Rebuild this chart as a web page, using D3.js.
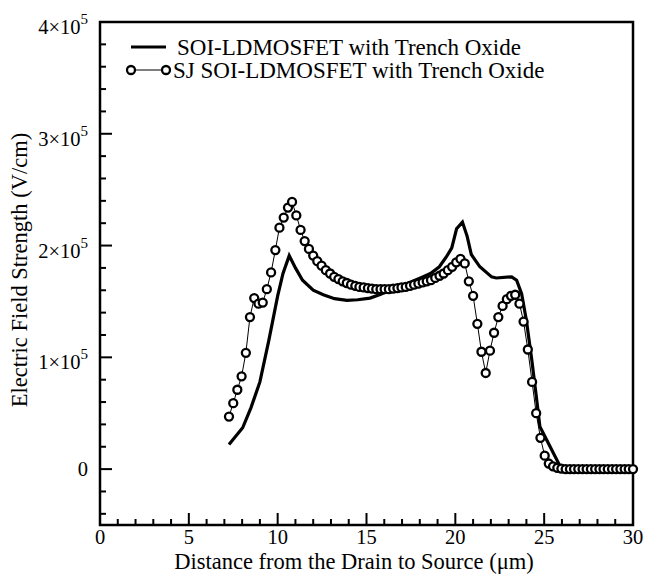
<!DOCTYPE html>
<meta charset="utf-8">
<style>
body { margin: 0; background: #fff; }
text { font-family: "Liberation Serif", "Times New Roman", serif; fill: #000; }
.tick-label { font-size: 20.5px; }
.axis-title { font-size: 22.5px; }
.legend-label { font-size: 23px; }
</style>
<body>
<script src="https://d3js.org/d3.v7.min.js"></script>
<script>
// solid curve: SOI-LDMOSFET with Trench Oxide (x in um, E in V/cm)
var trenchX = [7.26, 8.03, 8.5, 9.0, 9.5, 10.0, 10.3, 10.65, 11.0, 11.4, 12.0, 12.57, 13.2, 13.9, 14.5, 15.2, 15.8, 16.3, 17.0, 17.6, 18.1, 18.6, 19.1, 19.5, 19.8, 20.07, 20.4, 20.67, 20.9, 21.38, 22.04, 22.3, 23.17, 23.45, 23.73, 24.0, 24.3, 24.55, 24.76, 24.95, 25.98, 30.0];
var trenchE = [22000, 37000, 55000, 78000, 115000, 155000, 175000, 191000, 180000, 169000, 160000, 156000, 152500, 151000, 151500, 153000, 156500, 160000, 164000, 168000, 171500, 175000, 181000, 190000, 198000, 215000, 221000, 208000, 192000, 181000, 172000, 171000, 172000, 169000, 157000, 133000, 98000, 66000, 38000, 32000, 0, 0];

// circles: SJ SOI-LDMOSFET with Trench Oxide
var sjX = [7.26, 7.50, 7.73, 7.97, 8.21, 8.44, 8.68, 8.92, 9.16, 9.39,
           9.63, 9.87, 10.10, 10.34, 10.58, 10.81, 11.05, 11.29, 11.52, 11.76,
           12.00, 12.23, 12.47, 12.71, 12.95, 13.18, 13.42, 13.66, 13.89, 14.13,
           14.37, 14.60, 14.84, 15.08, 15.31, 15.55, 15.79, 16.02, 16.26, 16.50,
           16.74, 16.97, 17.21, 17.45, 17.68, 17.92, 18.16, 18.39, 18.63, 18.87,
           19.11, 19.34, 19.58, 19.82, 20.05, 20.29, 20.53, 20.76, 21.00, 21.24,
           21.47, 21.71, 21.95, 22.18, 22.42, 22.66, 22.90, 23.13, 23.37, 23.61,
           23.84, 24.08, 24.32, 24.55, 24.79, 25.03, 25.26, 25.50, 25.74, 25.97,
           26.21, 26.45, 26.68, 26.92, 27.16, 27.39, 27.63, 27.87, 28.11, 28.34,
           28.58, 28.82, 29.05, 29.29, 29.53, 29.76, 30.00];
var sjE = [47000, 59000, 71000, 83000, 104000, 136000, 153000, 148000, 149000, 161000,
           176000, 196000, 216000, 225000, 234000, 239000, 227000, 214000, 204000, 197000,
           191000, 186000, 182000, 178000, 175000, 172000, 170000, 168000, 166500, 165000,
           164000, 163000, 162500, 162000, 161500, 161000, 161000, 161000, 161000, 161500,
           162000, 162500, 163000, 164000, 165000, 166000, 167000, 168000, 169000, 171000,
           173000, 175000, 178000, 181000, 185000, 188000, 184000, 168000, 155000, 130000,
           105000, 86000, 106000, 122000, 136000, 146000, 152000, 155000, 156000, 148000,
           132000, 107000, 78000, 50000, 28000, 12000, 5000, 2500, 1200, 500,
           0, 0, 0, 0, 0, 0, 0, 0, 0, 0,
           0, 0, 0, 0, 0, 0, 0];

var xTicks = [0, 5, 10, 15, 20, 25, 30];
var yTicks = [0, 100000, 200000, 300000, 400000];
var legendLabels = ["SOI-LDMOSFET with Trench Oxide", "SJ SOI-LDMOSFET with Trench Oxide"];

var W = 645, H = 574;
var m = {left: 100, right: 12, top: 22, bottom: 49};

var svg = d3.select("body").append("svg")
    .attr("width", W)
    .attr("height", H);

var x = d3.scaleLinear().domain([0, 30]).range([m.left, W - m.right]);
var y = d3.scaleLinear().domain([-50000, 400000]).range([H - m.bottom, m.top]);

// inward ticks
var g = svg.append("g");
var xMinor = d3.range(0, 31, 1);
var yMinor = d3.range(-40000, 400001, 20000);

g.selectAll(".xminor").data(xMinor).enter().append("line")
    .attr("x1", d => x(d)).attr("x2", d => x(d))
    .attr("y1", y(-50000)).attr("y2", d => y(-50000) - (d % 5 === 0 ? 12 : 6))
    .attr("stroke", "#000").attr("stroke-width", 2);
g.selectAll(".yminor").data(yMinor).enter().append("line")
    .attr("y1", d => y(d)).attr("y2", d => y(d))
    .attr("x1", x(0)).attr("x2", d => x(0) + (d % 100000 === 0 ? 12 : 6))
    .attr("stroke", "#000").attr("stroke-width", 2);

// frame
svg.append("rect")
    .attr("x", x(0)).attr("y", y(400000))
    .attr("width", x(30) - x(0)).attr("height", y(-50000) - y(400000))
    .attr("fill", "none").attr("stroke", "#000").attr("stroke-width", 2.5);

// tick labels
svg.selectAll(".xl").data(xTicks).enter().append("text")
    .attr("class", "tick-label")
    .attr("x", d => x(d)).attr("y", y(-50000) + 19)
    .attr("text-anchor", "middle")
    .text(d => d);

var yl = svg.selectAll(".yl").data(yTicks).enter().append("text")
    .attr("class", "tick-label")
    .attr("x", x(0) - 12).attr("y", d => y(d) + (d === 0 ? 7 : 12))
    .attr("text-anchor", "end");
yl.each(function(d) {
    var t = d3.select(this);
    if (d === 0) { t.text("0"); return; }
    t.append("tspan").text((d / 100000) + "\u00d710");
    t.append("tspan").attr("dy", -10).attr("font-size", "15px").text("5");
});

// axis titles
svg.append("text").attr("class", "axis-title")
    .attr("x", 354).attr("y", 569)
    .attr("text-anchor", "middle")
    .text("Distance from the Drain to Source (\u03bcm)");
svg.append("text").attr("class", "axis-title")
    .attr("transform", "translate(27,270) rotate(-90)")
    .attr("text-anchor", "middle")
    .text("Electric Field Strength (V/cm)");

// series
var trench = trenchX.map((d, i) => [d, trenchE[i]]);
var sj = sjX.map((d, i) => [d, sjE[i]]);
var line = d3.line().x(d => x(d[0])).y(d => y(d[1]));

svg.append("path").datum(sj)
    .attr("d", line).attr("fill", "none")
    .attr("stroke", "#000").attr("stroke-width", 1);
svg.append("path").datum(trench)
    .attr("d", line).attr("fill", "none")
    .attr("stroke", "#000").attr("stroke-width", 3.2)
    .attr("stroke-linejoin", "miter");
svg.append("g").selectAll("circle").data(sj).enter().append("circle")
    .attr("cx", d => x(d[0])).attr("cy", d => y(d[1]))
    .attr("r", 4)
    .attr("fill", "#fff").attr("stroke", "#000").attr("stroke-width", 2.3);

// legend
var lg = svg.append("g");
lg.append("line").attr("x1", 131).attr("x2", 166).attr("y1", 47).attr("y2", 47)
    .attr("stroke", "#000").attr("stroke-width", 3.2);
lg.append("text").attr("class", "legend-label").attr("x", 177).attr("y", 55).text(legendLabels[0]);
lg.append("line").attr("x1", 131).attr("x2", 166).attr("y1", 70).attr("y2", 70)
    .attr("stroke", "#000").attr("stroke-width", 1);
lg.selectAll("circle").data([131, 166]).enter().append("circle")
    .attr("cx", d => d).attr("cy", 70).attr("r", 4)
    .attr("fill", "#fff").attr("stroke", "#000").attr("stroke-width", 2.3);
lg.append("text").attr("class", "legend-label").attr("x", 173).attr("y", 78).text(legendLabels[1]);
</script>
</body>
